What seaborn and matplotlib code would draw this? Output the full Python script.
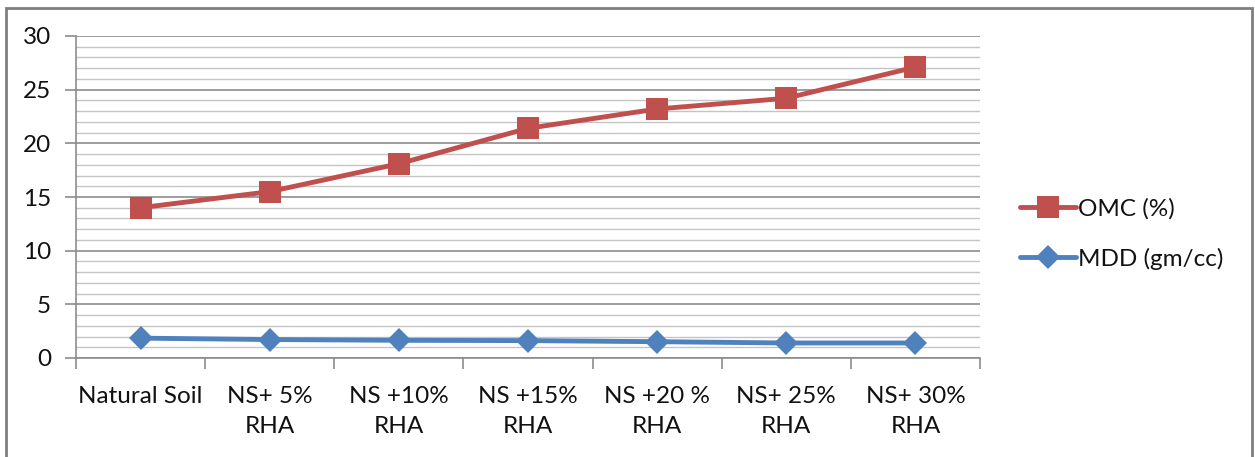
import matplotlib
matplotlib.use("Agg")
import matplotlib.pyplot as plt
from matplotlib.ticker import MultipleLocator
from matplotlib.patches import Rectangle
import seaborn as sns
import pandas as pd

categories = ["Natural Soil", "NS+ 5%\nRHA", "NS +10%\nRHA", "NS +15%\nRHA",
              "NS +20 %\nRHA", "NS+ 25%\nRHA", "NS+ 30%\nRHA"]
omc = [14.0, 15.5, 18.1, 21.4, 23.2, 24.2, 27.1]
mdd = [1.85, 1.72, 1.65, 1.62, 1.52, 1.40, 1.40]
series_names = ["OMC (%)", "MDD (gm/cc)"]

sns.set_theme(style="white")
plt.rcParams["font.family"] = ["Lato", "DejaVu Sans"]

W, H = 1255, 457
fig = plt.figure(figsize=(W / 100, H / 100), dpi=100)
ax = fig.add_axes([76 / W, 1 - 358 / H, (980 - 76) / W, (358 - 36) / H])

df = pd.DataFrame({
    "cat": categories * 2,
    "value": omc + mdd,
    "series": [series_names[0]] * len(categories) + [series_names[1]] * len(categories),
})

red = "#C0504D"
blue = "#4F81BD"
text_color = "#111111"
fs = 17.5

sns.lineplot(data=df[df.series == series_names[0]], x="cat", y="value", ax=ax,
             color=red, lw=3.5, marker="s", markersize=16, markeredgewidth=0,
             sort=False, label=series_names[0], zorder=4)
sns.lineplot(data=df[df.series == series_names[1]], x="cat", y="value", ax=ax,
             color=blue, lw=3.5, marker="D", markersize=12.5, markeredgewidth=0,
             sort=False, label=series_names[1], zorder=4)

ax.set_xlim(-0.5, len(categories) - 0.5)
ax.set_ylim(0, 30)
ax.set_xlabel("")
ax.set_ylabel("")

ax.yaxis.set_major_locator(MultipleLocator(5))
ax.yaxis.set_minor_locator(MultipleLocator(1))
ax.grid(axis="y", which="major", color="#8C8C8C", lw=1.2, zorder=0)
ax.grid(axis="y", which="minor", color="#C4C4C4", lw=1.0, zorder=0)
ax.grid(axis="x", visible=False)
ax.set_axisbelow(True)

# Category boundaries carry the x ticks; labels sit at the centres
ax.set_xticks([i + 0.5 for i in range(-1, len(categories))], minor=False)
ax.set_xticklabels([])
ax.set_xticks(range(len(categories)), minor=True)
ax.set_xticklabels(categories, minor=True, fontsize=fs, color=text_color,
                   linespacing=1.55, va="top")
ax.tick_params(axis="x", which="major", direction="out", length=8, width=1.2,
               color="#8C8C8C", bottom=True)
ax.tick_params(axis="x", which="minor", length=0, pad=20)
ax.tick_params(axis="y", which="major", direction="out", length=8, width=1.2,
               color="#8C8C8C", left=True, labelsize=fs, labelcolor=text_color, pad=10)
ax.tick_params(axis="y", which="minor", length=0)

for side in ["top", "right"]:
    ax.spines[side].set_visible(False)
for side in ["left", "bottom"]:
    ax.spines[side].set_color("#8C8C8C")
    ax.spines[side].set_linewidth(1.2)

leg = ax.legend(loc="center left", bbox_to_anchor=(998 / W, 1 - 234 / H),
                bbox_transform=fig.transFigure, frameon=False, fontsize=fs,
                handlelength=2.3, handletextpad=0.08, labelspacing=1.15,
                labelcolor=text_color)
for h in leg.legend_handles:
    h.set_linewidth(3.5)

# Outer frame around the chart area
fig.patches.append(Rectangle((6 / W, -0.05), (W - 9) / W, 1 + 0.05 - 8 / H,
                             transform=fig.transFigure, fill=False,
                             edgecolor="#7F7F7F", lw=2.0))

fig.savefig("out.png", dpi=100)
